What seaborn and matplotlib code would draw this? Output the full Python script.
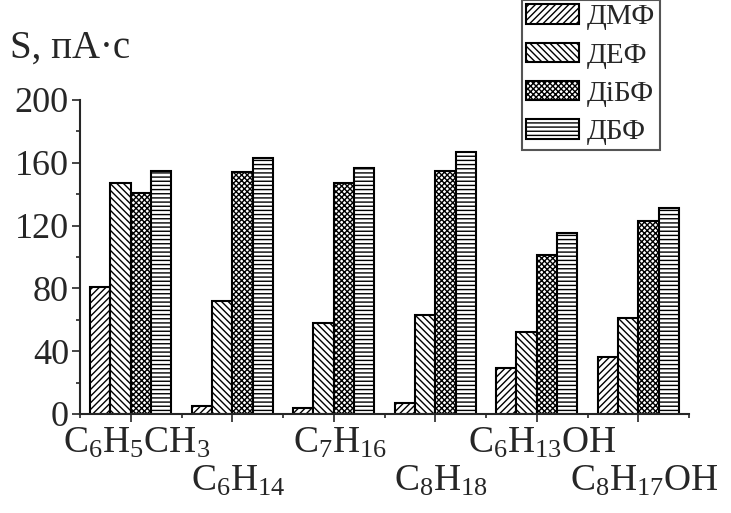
import pandas as pd
import matplotlib
matplotlib.use('Agg')
import matplotlib.pyplot as plt
import matplotlib.transforms as mtransforms
import seaborn as sns
from matplotlib.ticker import MultipleLocator, FixedLocator

# data
solvents = ['C6H5CH3', 'C6H14', 'C7H16', 'C8H18', 'C6H13OH', 'C8H17OH']
tick_labels = [r'$\mathrm{C_6H_5CH_3}$', r'$\mathrm{C_6H_{14}}$', r'$\mathrm{C_7H_{16}}$',
               r'$\mathrm{C_8H_{18}}$', r'$\mathrm{C_6H_{13}OH}$', r'$\mathrm{C_8H_{17}OH}$']
series = ['ДМФ', 'ДЕФ', 'ДіБФ', 'ДБФ']
dmf = [81, 5, 4, 7, 29, 36]
def_ = [147, 72, 58, 63, 52, 61]
dibf = [141, 154, 147, 155, 101, 123]
dbf = [155, 163, 157, 167, 115, 131]
hatches = ['/////', '\\\\\\\\\\', 'xxxxxx', '----']

rows = []
for name, vals in zip(series, [dmf, def_, dibf, dbf]):
    for s, v in zip(solvents, vals):
        rows.append({'solvent': s, 'series': name, 'S': v})
df = pd.DataFrame(rows)

sns.set_style('ticks')
plt.rcParams['font.family'] = ['Liberation Serif', 'DejaVu Serif']
plt.rcParams['mathtext.fontset'] = 'custom'
plt.rcParams['mathtext.rm'] = 'Liberation Serif'
plt.rcParams['mathtext.it'] = 'Liberation Serif:italic'
plt.rcParams['hatch.linewidth'] = 1.0
plt.rcParams['hatch.color'] = 'black'

fig = plt.figure(figsize=(7.31, 5.13), dpi=100)
ax = fig.add_axes([80 / 731, 1 - 414 / 513, 609 / 731, 314 / 513])

sns.barplot(data=df, x='solvent', y='S', hue='series', order=solvents,
            hue_order=series, palette=['white'] * 4, edgecolor='black',
            linewidth=1.5, saturation=1, legend=False, ax=ax)

for cont, h in zip(ax.containers, hatches):
    for bar in cont:
        bar.set_hatch(h)

ax.set_xlim(-0.5, 5.5)
ax.set_ylim(0, 200)
ax.yaxis.set_major_locator(MultipleLocator(40))
ax.yaxis.set_minor_locator(MultipleLocator(20))
ax.xaxis.set_minor_locator(FixedLocator([i + 0.5 for i in range(-1, 6)]))
ax.set_xlabel('')
ax.set_ylabel('S, пА·с', rotation=0, fontsize=28, ha='left', va='center')
ax.yaxis.set_label_coords(-0.115, 1.166)

sns.despine(ax=ax)
for sp in ['left', 'bottom']:
    ax.spines[sp].set_linewidth(1.5)

ax.tick_params(axis='both', which='major', direction='out', length=6, width=1.2)
ax.tick_params(axis='both', which='minor', direction='out', length=3, width=1.2)
ax.tick_params(axis='y', labelsize=26, pad=2)
ax.set_xticks(range(len(solvents)))
ax.set_xticklabels(tick_labels, fontsize=27)

# staggered formula labels, nudged right a little like the original
shift = mtransforms.ScaledTranslation(6 / 100, 0, fig.dpi_scale_trans)
for i, t in enumerate(ax.xaxis.get_major_ticks()):
    t.set_pad(3 if i % 2 == 0 else 30)
    t.label1.set_transform(t.label1.get_transform() + shift)

ax.legend(ax.containers, series, loc='upper left', bbox_to_anchor=(522 / 731, 1.0),
          bbox_transform=fig.transFigure, borderaxespad=0, fontsize=21, frameon=True,
          fancybox=False, edgecolor='#555555', framealpha=1, handlelength=1.8,
          handleheight=0.65, labelspacing=0.42, handletextpad=0.28, borderpad=0.15)
ax.get_legend().get_frame().set_linewidth(1.5)

fig.savefig('out.png', dpi=100)
